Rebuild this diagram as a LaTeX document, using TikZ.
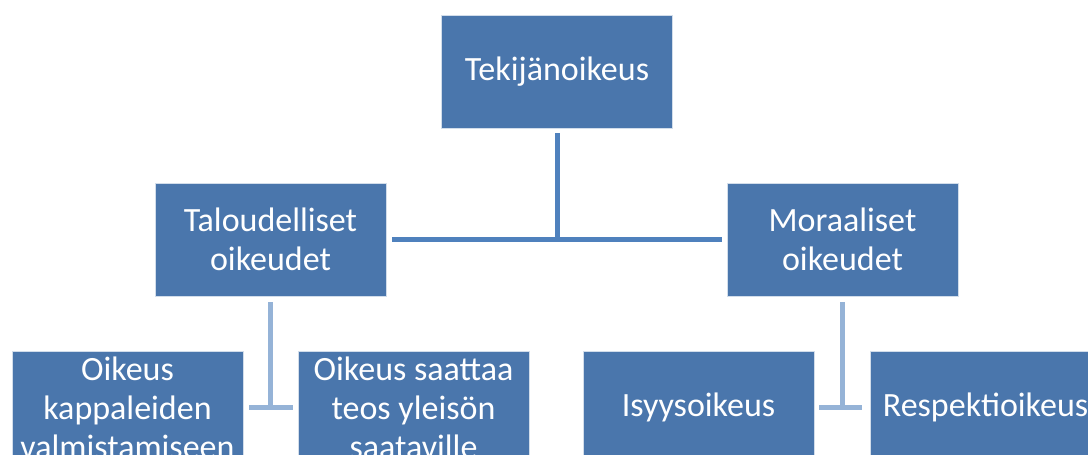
\documentclass[tikz,border=0pt]{standalone}
\usepackage{fontspec}
\setmainfont{Carlito}
\definecolor{boxblue}{HTML}{4A76AC}
\definecolor{linkdark}{HTML}{4F81BD}
\definecolor{linklight}{HTML}{95B3D7}
\tikzset{
	orgbox/.style={rectangle,fill=boxblue,draw=white!75!boxblue,line width=0.8pt,
		minimum width=231,minimum height=113,inner sep=0pt,text=white,align=center,
		font=\fontsize{34}{39}\selectfont},
	linkmain/.style={draw=linkdark,line width=5pt},
	linksub/.style={draw=linklight,line width=5pt}
}
\begin{document}
\begin{tikzpicture}[x=1pt,y=-1pt]
	% frame
	\useasboundingbox (0,0) rectangle (1088,455);
	\clip (0,0) rectangle (1088,455);
	% draw boxes
	\node[orgbox] (tek) at (557,71.5) {Tekijänoikeus};
	\node[orgbox] (tal) at (270.5,239.5) {Taloudelliset\\oikeudet};
	\node[orgbox] (mor) at (842.5,239.5) {Moraaliset\\oikeudet};
	\node[orgbox] (kap) at (127.5,407.5) {Oikeus\\kappaleiden\\valmistamiseen};
	\node[orgbox] (saa) at (413.5,407.5) {Oikeus saattaa\\teos yleisön\\saataville};
	\node[orgbox] (isy) at (698.5,407.5) {Isyysoikeus};
	\node[orgbox] (res) at (985.5,407.5) {Respektioikeus};
	% draw connectors
	\draw[linkmain,shorten <=5pt] (tek.south) -- (tek.south |- tal.east);
	\draw[linkmain,shorten <=6pt,shorten >=5pt] (tal.east) -- (mor.west);
	\draw[linksub,shorten <=6pt] (tal.south) -- (tal.south |- kap.east);
	\draw[linksub,shorten <=6pt,shorten >=5pt] (kap.east) -- (saa.west);
	\draw[linksub,shorten <=6pt] (mor.south) -- (mor.south |- isy.east);
	\draw[linksub,shorten <=5pt,shorten >=8pt] (isy.east) -- (res.west);
\end{tikzpicture}
\end{document}
